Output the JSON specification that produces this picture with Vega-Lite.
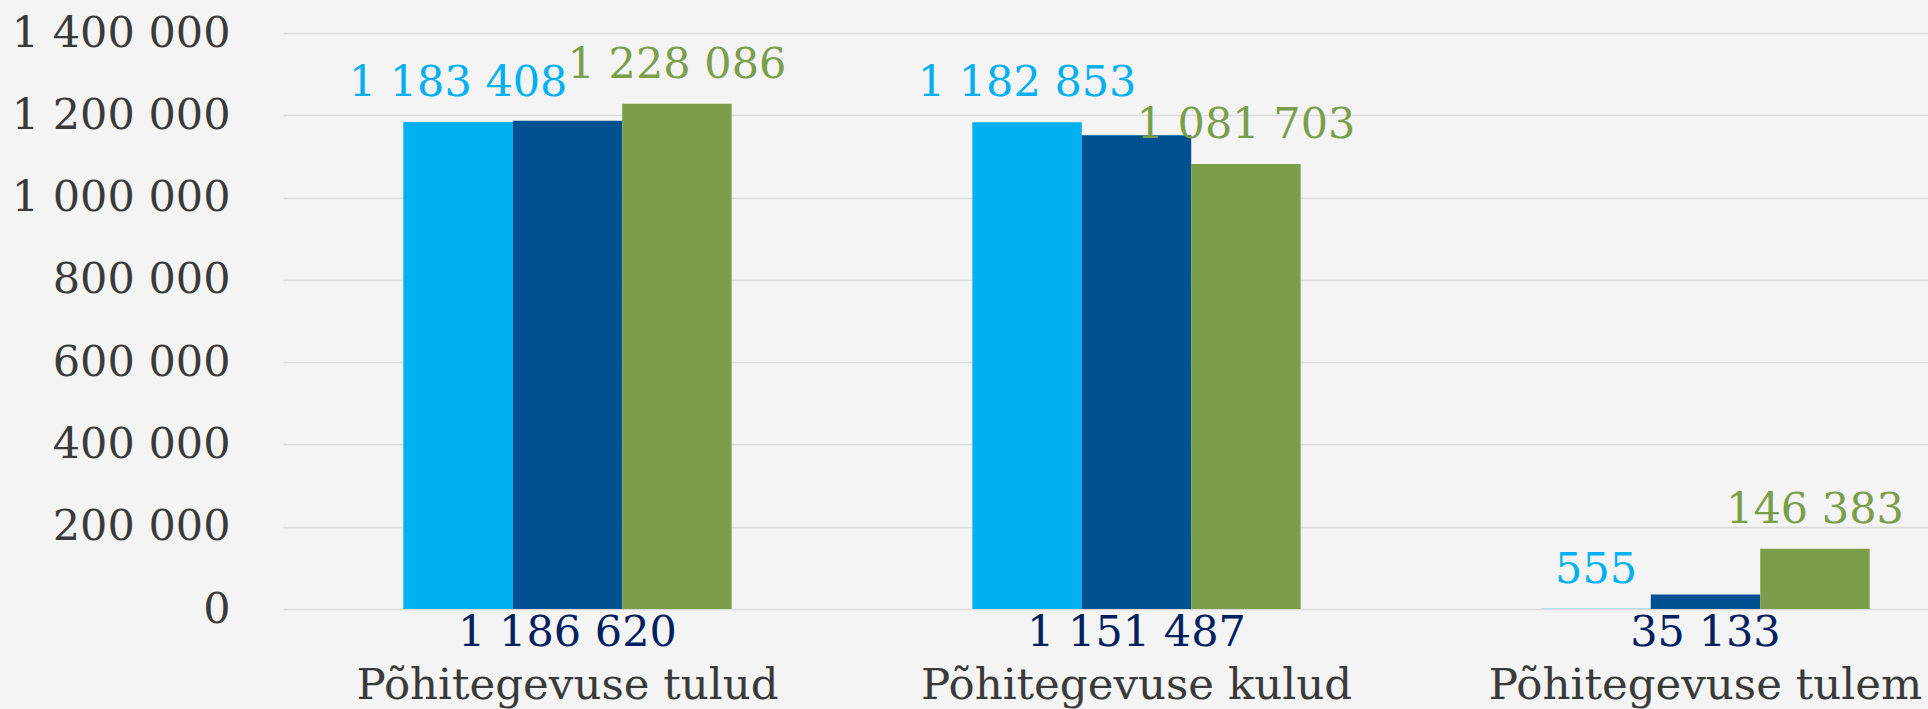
{
  "$schema": "https://vega.github.io/schema/vega-lite/v6.json",
  "width": 1707,
  "height": 576,
  "autosize": {"type": "none"},
  "padding": {"left": 283, "top": 33, "right": 0, "bottom": 100},
  "background": "#F4F4F4",
  "config": {
    "view": {"stroke": null},
    "font": "DejaVu Serif",
    "locale": {"number": {"decimal": ",", "thousands": " ", "grouping": [3], "currency": ["", ""]}}
  },
  "data": {
    "values": [
      {"kategooria": "Põhitegevuse tulud", "seeria": "2022", "vaartus": 1183408},
      {"kategooria": "Põhitegevuse tulud", "seeria": "2023", "vaartus": 1186620},
      {"kategooria": "Põhitegevuse tulud", "seeria": "2024", "vaartus": 1228086},
      {"kategooria": "Põhitegevuse kulud", "seeria": "2022", "vaartus": 1182853},
      {"kategooria": "Põhitegevuse kulud", "seeria": "2023", "vaartus": 1151487},
      {"kategooria": "Põhitegevuse kulud", "seeria": "2024", "vaartus": 1081703},
      {"kategooria": "Põhitegevuse tulem", "seeria": "2022", "vaartus": 555},
      {"kategooria": "Põhitegevuse tulem", "seeria": "2023", "vaartus": 35133},
      {"kategooria": "Põhitegevuse tulem", "seeria": "2024", "vaartus": 146383}
    ]
  },
  "encoding": {
    "x": {
      "field": "kategooria", "type": "nominal",
      "sort": ["Põhitegevuse tulud", "Põhitegevuse kulud", "Põhitegevuse tulem"],
      "scale": {"paddingInner": 0.423, "paddingOuter": 0.2115},
      "axis": {
        "title": null, "domain": false, "ticks": false, "tickSize": 0,
        "labelAngle": 0, "labelFontSize": 43.5, "labelColor": "#3A3A3A",
        "labelBaseline": "alphabetic", "labelPadding": 89, "labelFont": "DejaVu Serif",
        "labelLimit": 0
      }
    },
    "xOffset": {
      "field": "seeria", "type": "nominal", "sort": ["2022", "2023", "2024"],
      "scale": {"paddingInner": 0, "paddingOuter": 0}
    },
    "color": {
      "field": "seeria", "type": "nominal",
      "scale": {"domain": ["2022", "2023", "2024"], "range": ["#00B0F0", "#005192", "#7A9E4A"]},
      "legend": null
    }
  },
  "layer": [
    {
      "mark": {"type": "bar"},
      "encoding": {
        "y": {
          "field": "vaartus", "type": "quantitative",
          "scale": {"domain": [0, 1400000], "nice": false},
          "axis": {
            "title": null, "domain": false, "ticks": false,
            "values": [0, 200000, 400000, 600000, 800000, 1000000, 1200000, 1400000],
            "format": ",d", "labelFontSize": 43, "labelColor": "#3A3A3A",
            "labelPadding": 53, "gridColor": "#DCDCDC", "gridWidth": 1.5,
            "labelFont": "DejaVu Serif", "labelLimit": 0
          }
        }
      }
    },
    {
      "transform": [{"filter": "datum.seeria != '2023'"}],
      "mark": {"type": "text", "baseline": "middle", "align": "center", "dy": -39, "fontSize": 43},
      "encoding": {
        "y": {"field": "vaartus", "type": "quantitative"},
        "text": {"field": "vaartus", "type": "quantitative", "format": ",d"}
      }
    },
    {
      "transform": [{"filter": "datum.seeria == '2023'"}],
      "mark": {"type": "text", "baseline": "middle", "align": "center", "dy": 24, "fontSize": 43},
      "encoding": {
        "y": {"datum": 0, "type": "quantitative"},
        "text": {"field": "vaartus", "type": "quantitative", "format": ",d"},
        "color": {"value": "#002060"}
      }
    }
  ]
}
